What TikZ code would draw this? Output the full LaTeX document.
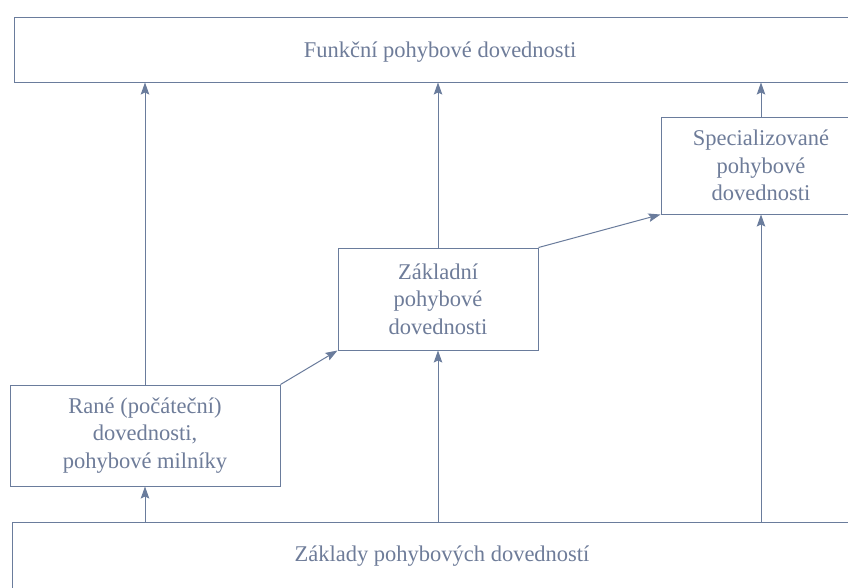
\documentclass[tikz,border=0pt]{standalone}
\usepackage{fontspec}
\setmainfont{Liberation Serif}
\usetikzlibrary{arrows.meta}
\definecolor{linec}{HTML}{6A7C9C}
\definecolor{textc}{HTML}{6E7C99}
\begin{document}
\begin{tikzpicture}[x=1pt,y=-1pt,
  box/.style={draw=linec, line width=1pt, rectangle, inner sep=0pt, align=center,
    text=textc, font=\fontsize{22.5}{27.5}\selectfont},
  conn/.style={draw=linec, line width=1pt, -{Stealth[length=12pt,width=8.5pt,inset=2pt]}},
  plain/.style={draw=linec, line width=1pt}]
\useasboundingbox (0,0) rectangle (848,587);
\clip (0,0) rectangle (848,587);
\fill[white] (0,0) rectangle (848,587);
\node[box, minimum width=852pt, minimum height=65pt, text depth=-6pt] (top) at (440,49.5) {Funkční pohybové dovednosti};
\node[box, minimum width=860pt, minimum height=68pt] (bot) at (442,556) {Základy pohybových dovedností};
\node[box, minimum width=270pt, minimum height=101pt] (rane) at (145,435.5) {Rané (počáteční)\\dovednosti,\\pohybové milníky};
\node[box, minimum width=200pt, minimum height=102pt] (zakl) at (438,299) {Základní\\pohybové\\dovednosti};
\node[box, minimum width=200pt, minimum height=97pt] (spec) at (761,165.5) {Specializované\\pohybové\\dovednosti};
\draw[conn] (rane.north) -- (rane.north |- top.south);
\draw[conn] (zakl.north) -- (zakl.north |- top.south);
\draw[conn] (spec.north) -- (spec.north |- top.south);
\draw[conn] (rane.south |- bot.north) -- (rane.south);
\draw[conn] (zakl.south |- bot.north) -- (zakl.south);
\draw[conn] (spec.south |- bot.north) -- (spec.south);
\draw[conn] (rane.north east) -- (zakl.south west);
\draw[conn] (zakl.north east) -- (spec.south west);
\end{tikzpicture}
\end{document}
